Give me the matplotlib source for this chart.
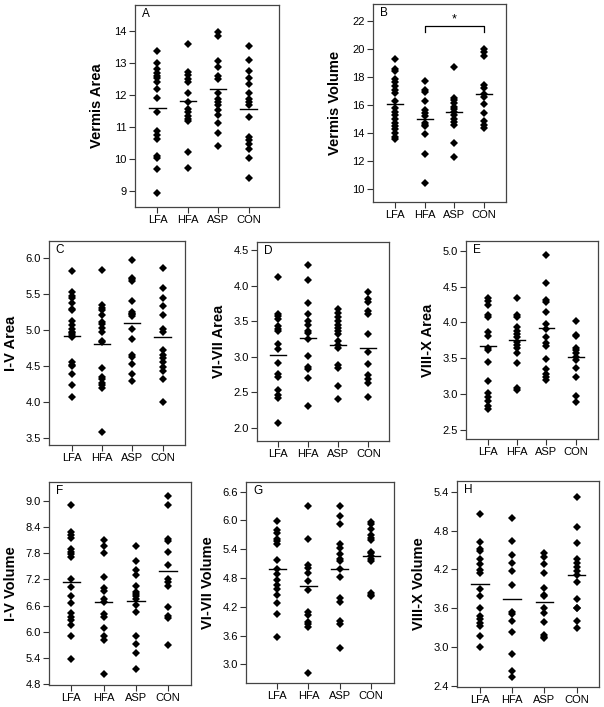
import matplotlib
matplotlib.use("Agg")
import matplotlib.pyplot as plt
from matplotlib.ticker import FormatStrFormatter

plt.rcParams["font.family"] = ["Liberation Sans", "DejaVu Sans"]

groups = ["LFA", "HFA", "ASP", "CON"]

# values, one list per group (LFA, HFA, ASP, CON)
vermis_area = [
    [13.38, 13.0, 12.8, 12.69, 12.6, 12.53, 12.4, 12.19, 11.9, 11.47, 10.87, 10.76, 10.63, 10.08, 10.03, 9.68, 8.95],
    [13.59, 12.7, 12.62, 12.48, 12.4, 12.07, 11.79, 11.57, 11.45, 11.33, 11.23, 11.18, 10.23, 9.71],
    [13.95, 13.84, 13.04, 12.87, 12.59, 12.5, 12.05, 11.87, 11.79, 11.67, 11.53, 11.37, 11.13, 10.82, 10.41],
    [13.53, 13.07, 12.75, 12.52, 12.33, 12.05, 11.86, 11.79, 11.67, 11.32, 10.68, 10.6, 10.46, 10.31, 10.03, 9.39],
]
vermis_area_mean = [11.6, 11.82, 12.19, 11.55]

vermis_volume = [
    [19.24, 18.52, 18.4, 17.83, 17.6, 17.33, 17.05, 16.81, 16.26, 15.79, 15.48, 15.24, 15.0, 14.71, 14.48, 14.24, 13.95, 13.69, 13.55],
    [17.69, 17.05, 16.88, 16.29, 15.62, 15.38, 15.21, 14.71, 14.55, 14.45, 13.88, 12.48, 10.43],
    [18.69, 16.5, 16.33, 16.1, 15.86, 15.69, 15.48, 15.26, 14.98, 14.74, 14.55, 13.26, 12.29],
    [19.95, 19.79, 19.5, 17.38, 17.17, 16.76, 16.52, 16.02, 15.38, 14.86, 14.57, 14.33],
]
vermis_volume_mean = [16.02, 14.95, 15.5, 16.76]

iv_area = [
    [5.82, 5.53, 5.48, 5.44, 5.37, 5.29, 5.28, 5.12, 5.07, 5.02, 4.98, 4.96, 4.93, 4.9, 4.55, 4.52, 4.5, 4.39, 4.24, 4.07],
    [5.83, 5.35, 5.31, 5.28, 5.21, 5.11, 5.08, 5.03, 4.98, 4.85, 4.83, 4.47, 4.35, 4.32, 4.27, 4.23, 4.2, 3.58],
    [5.97, 5.73, 5.71, 5.69, 5.41, 5.25, 5.23, 5.22, 5.19, 5.01, 4.88, 4.65, 4.62, 4.53, 4.39, 4.29],
    [5.87, 5.58, 5.44, 5.33, 5.21, 5.01, 4.97, 4.72, 4.65, 4.61, 4.56, 4.49, 4.43, 4.32, 4.0],
]
iv_area_mean = [4.92, 4.80, 5.10, 4.90]

vivii_area = [
    [4.13, 3.61, 3.58, 3.53, 3.44, 3.39, 3.37, 3.18, 3.11, 2.91, 2.76, 2.71, 2.53, 2.46, 2.42, 2.06],
    [4.29, 4.09, 3.76, 3.6, 3.5, 3.45, 3.37, 3.33, 3.25, 3.01, 2.86, 2.82, 2.7, 2.3],
    [3.68, 3.62, 3.56, 3.5, 3.45, 3.4, 3.36, 3.32, 3.22, 3.17, 3.13, 2.88, 2.84, 2.59, 2.4],
    [3.92, 3.81, 3.77, 3.64, 3.6, 3.32, 3.06, 2.9, 2.74, 2.68, 2.63, 2.43],
]
vivii_area_mean = [3.02, 3.27, 3.17, 3.13]

viiix_area = [
    [4.34, 4.3, 4.24, 4.1, 4.07, 3.86, 3.81, 3.64, 3.62, 3.45, 3.18, 3.01, 2.96, 2.9, 2.84, 2.8],
    [4.34, 4.1, 4.07, 3.94, 3.88, 3.84, 3.79, 3.73, 3.68, 3.64, 3.58, 3.43, 3.09, 3.06],
    [4.94, 4.55, 4.31, 4.28, 4.14, 3.98, 3.91, 3.79, 3.71, 3.67, 3.49, 3.35, 3.28, 3.24, 3.2],
    [4.02, 3.83, 3.81, 3.65, 3.61, 3.57, 3.52, 3.47, 3.37, 3.24, 2.98, 2.89],
]
viiix_area_mean = [3.67, 3.75, 3.92, 3.52]

iv_volume = [
    [8.91, 8.28, 8.21, 8.15, 7.89, 7.83, 7.77, 7.72, 7.21, 7.03, 6.83, 6.65, 6.42, 6.34, 6.27, 6.15, 5.9, 5.37],
    [8.11, 7.97, 7.81, 7.26, 7.0, 6.93, 6.76, 6.68, 6.4, 6.33, 6.08, 5.91, 5.82, 5.04],
    [7.96, 7.62, 7.42, 7.29, 7.04, 6.92, 6.86, 6.82, 6.75, 6.62, 6.45, 5.91, 5.72, 5.52, 5.14],
    [9.1, 8.91, 8.13, 8.08, 7.83, 7.53, 7.2, 7.15, 7.05, 6.56, 6.37, 6.31, 5.69],
]
iv_volume_mean = [7.14, 6.69, 6.70, 7.40]

vivii_volume = [
    [5.99, 5.79, 5.73, 5.61, 5.57, 5.5, 5.18, 4.99, 4.88, 4.76, 4.66, 4.56, 4.45, 4.28, 4.05, 3.56],
    [6.29, 5.61, 5.08, 5.01, 4.9, 4.74, 4.55, 4.08, 4.02, 3.89, 3.83, 3.77, 2.81],
    [6.29, 6.09, 5.92, 5.5, 5.43, 5.3, 5.19, 5.15, 4.99, 4.81, 4.38, 4.29, 3.9, 3.85, 3.35],
    [5.97, 5.92, 5.83, 5.7, 5.64, 5.59, 5.35, 5.31, 5.26, 5.2, 5.16, 4.49, 4.45, 4.42],
]
vivii_volume_mean = [4.99, 4.63, 4.99, 5.26]

viiix_volume = [
    [5.06, 4.62, 4.51, 4.48, 4.36, 4.28, 4.19, 4.14, 3.9, 3.79, 3.61, 3.48, 3.43, 3.38, 3.33, 3.18, 3.0],
    [4.99, 4.64, 4.42, 4.3, 4.18, 3.96, 3.55, 3.51, 3.4, 3.23, 2.9, 2.63, 2.54],
    [4.45, 4.39, 4.28, 4.14, 3.92, 3.81, 3.79, 3.6, 3.52, 3.39, 3.19, 3.16, 3.14],
    [5.32, 4.85, 4.61, 4.36, 4.3, 4.24, 4.18, 4.11, 4.0, 3.75, 3.61, 3.6, 3.41, 3.29],
]
viiix_volume_mean = [3.97, 3.75, 3.69, 4.11]

W, H = 604, 707
fig = plt.figure(figsize=(W / 100, H / 100), dpi=100)

# letter, data, means, ylabel, yticks, ylim, xlim, box (px: left, top, right, bottom), tick format
panels = [
    ("A", vermis_area, vermis_area_mean, "Vermis Area", [9, 10, 11, 12, 13, 14], (8.5, 14.8), (0.26, 5.0), (135, 5, 279, 207), "%d"),
    ("B", vermis_volume, vermis_volume_mean, "Vermis Volume", [10, 12, 14, 16, 18, 20, 22], (9.05, 23.2), (0.27, 4.73), (373, 4, 506, 202), "%d"),
    ("C", iv_area, iv_area_mean, "I-V Area", [3.5, 4.0, 4.5, 5.0, 5.5, 6.0], (3.40, 6.24), (0.25, 4.74), (49, 241, 185, 445), "%.1f"),
    ("D", vivii_area, vivii_area_mean, "VI-VII Area", [2.0, 2.5, 3.0, 3.5, 4.0, 4.5], (1.81, 4.62), (0.30, 4.69), (257, 242, 389, 441), "%.1f"),
    ("E", viiix_area, viiix_area_mean, "VIII-X Area", [2.5, 3.0, 3.5, 4.0, 4.5, 5.0], (2.375, 5.135), (0.25, 4.76), (466, 241, 598, 439), "%.1f"),
    ("F", iv_volume, iv_volume_mean, "I-V Volume", [4.8, 5.4, 6.0, 6.6, 7.2, 7.8, 8.4, 9.0], (4.78, 9.43), (0.31, 4.71), (49, 482, 191, 685), "%.1f"),
    ("G", vivii_volume, vivii_volume_mean, "VI-VII Volume", [3.0, 3.6, 4.2, 4.8, 5.4, 6.0, 6.6], (2.61, 6.80), (0.01, 4.73), (246, 482, 394, 683), "%.1f"),
    ("H", viiix_volume, viiix_volume_mean, "VIII-X Volume", [2.4, 3.0, 3.6, 4.2, 4.8, 5.4], (2.385, 5.565), (0.29, 4.69), (457, 481, 599, 687), "%.1f"),
]

for letter, data, means, ylabel, yticks, ylim, xlim, box, fmt in panels:
    l, t, r, b = box
    ax = fig.add_axes([l / W, 1 - b / H, (r - l) / W, (b - t) / H])
    for i, vals in enumerate(data):
        x = i + 1
        ax.plot([x] * len(vals), vals, "D", color="black", ms=4.1, mew=0)
        ax.plot([x - 0.27, x + 0.27], [means[i], means[i]], color="black", lw=1.0)
    ax.set_xlim(*xlim)
    ax.set_ylim(*ylim)
    ax.set_xticks([1, 2, 3, 4])
    ax.set_xticklabels(groups)
    ax.set_yticks(yticks)
    ax.yaxis.set_major_formatter(FormatStrFormatter(fmt))
    ax.tick_params(labelsize=8, length=4, width=0.8, color="#333333", pad=2)
    for s in ax.spines.values():
        s.set_color("#444444")
        s.set_linewidth(0.9)
    ax.set_ylabel(ylabel, fontsize=10.5, fontweight="bold")
    # right edge of the rotated label sits ~31 px left of the spine
    ax.yaxis.set_label_coords(-31 / (r - l), 0.5)
    ax.text(0.05, 0.985, letter, transform=ax.transAxes, fontsize=8.5, va="top", ha="left")
    if letter == "B":
        # significance bracket between HFA and CON
        ax.plot([2, 2, 4, 4], [21.2, 21.62, 21.62, 21.2], color="black", lw=0.9)
        ax.text(3, 21.65, "*", ha="center", va="bottom", fontsize=9)

fig.savefig("out.png", dpi=100)
